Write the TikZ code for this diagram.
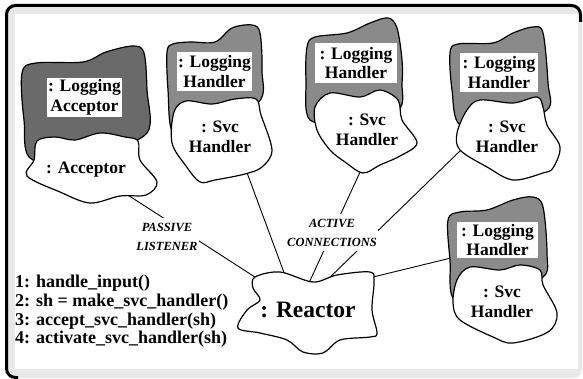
\documentclass[tikz,border=0pt]{standalone}
\usepackage{fontspec}
\setmainfont{Liberation Serif}
\newfontfamily\tms{Liberation Serif}
\definecolor{bandgray}{HTML}{E8E8E8}
\definecolor{accgray}{HTML}{6A6A6A}
\definecolor{hgray}{HTML}{8A8A8A}
\newcommand\labfont{\tms\fontsize{17.5}{19.5}\selectfont\bfseries}
\newcommand\stepfont{\tms\fontsize{18}{18.7}\selectfont\bfseries}
\newcommand\tagfont{\tms\fontsize{12.5}{19}\selectfont\bfseries\itshape}
\newcommand\reacfont{\tms\fontsize{23.5}{26}\selectfont\bfseries}
\begin{document}
\begin{tikzpicture}[x=1pt,y=-1pt,
  darkblob/.style={draw=black, line width=1.2pt, fill=#1},
  whiteblob/.style={draw=black, line width=1.2pt, fill=white},
  labelbox/.style={fill=white, inner sep=0pt, align=center, font=\labfont},
  svctext/.style={inner sep=0pt, align=center, font=\labfont},
  conn/.style={line width=0.9pt},
  tagbox/.style={fill=white, align=center, inner xsep=1.5pt, inner ysep=5pt, font=\tagfont}]
\useasboundingbox (0,0) rectangle (583,379);
% frame
\fill[bandgray, rounded corners=9] (5,4) rectangle (582,378);
\fill[white] (15,14) rectangle (578,369);
\draw[line width=3pt, rounded corners=9] (18,377.5) -- (6.5,377.5) -- (6.5,5.5) -- (580.5,5.5) -- (580.5,22);
% connector end points
\coordinate (accS) at (120,190);
\coordinate (h1S) at (246,170);
\coordinate (h2S) at (361,170);
\coordinate (h3S) at (462,149);
\coordinate (h4W) at (455,257);
\coordinate (reacA) at (258,279);
\coordinate (reacB) at (286,278);
\coordinate (reacC) at (308,285);
\coordinate (reacD) at (322,285);
\coordinate (reacE) at (369,278);
% connectors
\draw[conn] (accS) -- (reacA);
\draw[conn] (h1S) -- (reacB);
\draw[conn] (h2S) -- (reacC);
\draw[conn] (h3S) -- (reacD);
\draw[conn] (reacE) -- (h4W);
% Logging Acceptor
\draw[darkblob=accgray] plot[smooth cycle, tension=0.55] coordinates {(22,73) (36,63) (83,62) (106,52) (133,46) (144,53) (147,90) (147,133) (100,150) (33,160) (24,120)};
\node[labelbox, minimum width=75pt, minimum height=39pt] (acclab) at (84.5,97.5) {: Logging\\Acceptor};
\draw[whiteblob] plot[smooth cycle, tension=0.55] coordinates {(37,141) (55,137) (75,140) (100,133) (125,137) (138,141) (140,160) (157,182) (146,195) (120,196) (90,203) (60,192) (27,176) (34,160)};
\node[svctext] (acctext) at (86,170) {: Acceptor};
% Handler 1
\draw[darkblob=hgray] plot[smooth cycle, tension=0.55] coordinates {(167,52) (173,44) (190,42) (215,42) (232,28) (252,25) (260,33) (262,70) (258,103) (200,130) (173,133) (168,90)};
\node[labelbox, minimum width=75pt, minimum height=39pt] (h1lab) at (214.5,71.5) {: Logging\\Handler};
\draw[whiteblob] plot[smooth cycle, tension=0.55] coordinates {(174,112) (186,101) (212,104) (235,99) (256,99) (261,115) (272,150) (262,167) (245,174) (215,180) (200,182) (186,166) (172,143)};
\node[svctext] (h1text) at (220,137) {: Svc\\Handler};
% Handler 2
\draw[darkblob=hgray] plot[smooth cycle, tension=0.55] coordinates {(307,47) (315,37) (347,33) (370,23) (388,18) (397,28) (402,60) (402,83) (398,110) (350,120) (310,120) (306,80)};
\node[labelbox, minimum width=82pt, minimum height=40pt] (h2lab) at (356,63) {: Logging\\Handler};
\draw[whiteblob] plot[smooth cycle, tension=0.55] coordinates {(315,107) (330,93) (360,97) (380,90) (398,100) (402,120) (417,143) (400,156) (380,165) (363,173) (345,162) (330,150) (317,130)};
\node[svctext] (h2text) at (367,130) {: Svc\\Handler};
% Handler 3
\draw[darkblob=hgray] plot[smooth cycle, tension=0.55] coordinates {(450,53) (458,44) (493,43) (513,33) (533,27) (543,33) (548,83) (547,110) (500,125) (460,125) (452,90)};
\node[labelbox, minimum width=78pt, minimum height=39pt] (h3lab) at (499,72.5) {: Logging\\Handler};
\draw[whiteblob] plot[smooth cycle, tension=0.55] coordinates {(467,110) (480,100) (513,103) (537,97) (543,107) (547,125) (560,147) (553,168) (543,173) (513,180) (487,167) (460,150) (457,133)};
\node[svctext] (h3text) at (507,137) {: Svc\\Handler};
% Handler 4
\draw[darkblob=hgray] plot[smooth cycle, tension=0.55] coordinates {(448,220) (460,212) (487,210) (513,200) (533,197) (543,207) (547,253) (543,277) (500,290) (455,300) (450,260)};
\node[labelbox, minimum width=81pt, minimum height=36pt] (h4lab) at (497.5,240) {: Logging\\Handler};
\draw[whiteblob] plot[smooth cycle, tension=0.55] coordinates {(457,280) (470,267) (500,270) (520,265) (540,270) (543,285) (557,313) (548,332) (513,343) (493,337) (460,320) (453,303)};
\node[svctext] (h4text) at (502,302) {: Svc\\Handler};
% Reactor
\draw[whiteblob] plot[smooth cycle, tension=0.55] coordinates {(255,277) (280,272) (313,282) (337,275) (370,272) (374,282) (372,310) (377,333) (370,337) (340,340) (323,353) (303,352) (287,340) (260,333) (238,328) (247,310) (260,300) (253,288)};
\node[inner sep=0pt, font=\reacfont] (reactor) at (308,310) {: Reactor};
% connector tags
\node[tagbox] (passive) at (167,236.5) {PASSIVE\\LISTENER};
\node[tagbox] (active) at (332,232.5) {ACTIVE\\CONNECTIONS};
% steps
\node[anchor=north west, inner sep=0pt, align=left, font=\stepfont] (steps) at (15,275) {1: handle\_input()\\2: sh = make\_svc\_handler()\\3: accept\_svc\_handler(sh)\\4: activate\_svc\_handler(sh)};
\end{tikzpicture}
\end{document}
